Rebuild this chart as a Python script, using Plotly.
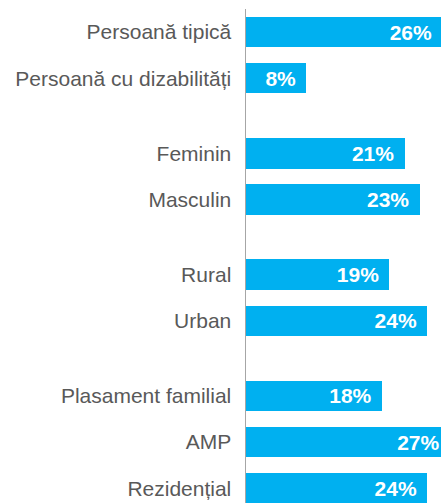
import plotly.graph_objects as go

groups = [
    ["Persoană tipică", "Persoană cu dizabilități"],
    ["Feminin", "Masculin"],
    ["Rural", "Urban"],
    ["Plasament familial", "AMP", "Rezidențial"],
]
values = [26, 8, 21, 23, 19, 24, 18, 27, 24]
labels = [f"{v}%\u00a0\u200a" for v in values]

GROUP_GAP = 0.63
cats, ypos = [], []
pos = 0.0
for gi, g in enumerate(groups):
    if gi > 0:
        pos += GROUP_GAP
    for c in g:
        cats.append(c)
        ypos.append(pos)
        pos += 1
last = ypos[-1]

fig = go.Figure(go.Bar(
    x=values, y=ypos, orientation="h",
    width=0.66,
    marker=dict(color="#00B0F0", line=dict(width=0)),
    text=labels, textposition="inside", insidetextanchor="end",
    textfont=dict(family="Liberation Sans, Arial, sans-serif", size=21, color="white", weight="bold"),
    textangle=0,
    hoverinfo="skip",
))

fig.update_layout(
    width=480, height=503,
    margin=dict(l=246, r=0, t=9, b=0),
    paper_bgcolor="white", plot_bgcolor="white",
    showlegend=False,
    xaxis=dict(range=[0, 31.0], visible=False, fixedrange=True),
    yaxis=dict(
        range=[last + 0.5 - 0.18, -0.5],
        tickvals=ypos, ticktext=cats,
        showline=True, linecolor="#A6A6A6", linewidth=1.5,
        showgrid=False, zeroline=False, ticks="", ticklabelstandoff=9,
        fixedrange=True,
        tickfont=dict(family="Liberation Sans, Arial, sans-serif", size=21, color="#595959"),
    ),
    bargap=0,
)

fig.write_html(
    "out.html",
    config={"displayModeBar": False, "staticPlot": True},
    post_script="document.body.style.margin='0';document.body.style.overflow='hidden';document.documentElement.style.overflow='hidden';",
)
